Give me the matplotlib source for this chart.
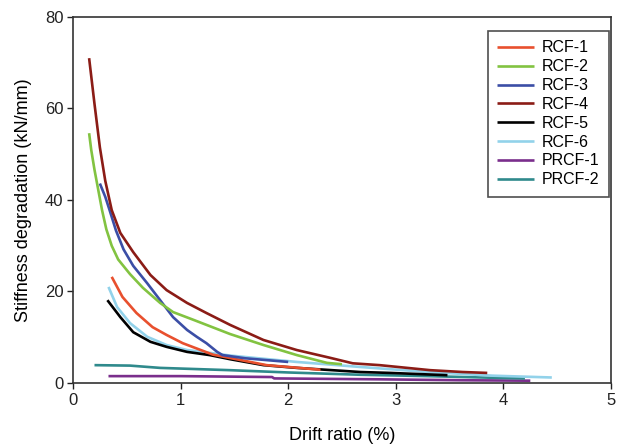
import matplotlib.pyplot as plt

plt.rcParams['font.family'] = ['Liberation Sans', 'DejaVu Sans']

names = ['RCF-1', 'RCF-2', 'RCF-3', 'RCF-4', 'RCF-5', 'RCF-6', 'PRCF-1', 'PRCF-2']
colors = ['#e8502e', '#82c341', '#3b4ea6', '#8b1c16', '#000000', '#92d2ea', '#7a2e8c', '#2f8a8c']

# drift ratio (%) / stiffness (kN/mm)
rcf1_x = [0.36, 0.46, 0.59, 0.74, 0.87, 1.02, 1.3, 1.8, 2.3]
rcf1_y = [23.2, 18.8, 15.3, 12.2, 10.5, 8.7, 6.2, 3.9, 2.9]

rcf2_x = [0.15, 0.17, 0.2, 0.235, 0.27, 0.31, 0.36, 0.42, 0.53, 0.65, 0.81, 0.93, 1.12, 1.46,
          1.77, 2.08, 2.36, 2.5]
rcf2_y = [54.6, 50.9, 46.6, 42.2, 37.8, 33.6, 30.0, 27.0, 23.8, 20.8, 17.5, 15.5, 13.8, 10.7,
          8.3, 6.1, 4.4, 4.1]

rcf3_x = [0.25, 0.3, 0.34, 0.4, 0.47, 0.56, 0.69, 0.81, 0.93, 1.06, 1.15, 1.24, 1.34, 1.39,
          1.6, 2.0]
rcf3_y = [43.6, 40.7, 37.8, 33.3, 29.2, 25.6, 21.8, 18.1, 14.4, 11.6, 10.1, 8.7, 6.8, 6.1,
          5.4, 4.6]

rcf4_x = [0.15, 0.2, 0.25, 0.3, 0.36, 0.44, 0.56, 0.72, 0.87, 1.06, 1.24, 1.46, 1.77, 2.08,
          2.39, 2.6, 2.85, 3.32, 3.62, 3.85]
rcf4_y = [71.0, 61.0, 51.5, 44.2, 37.8, 32.8, 28.6, 23.6, 20.3, 17.5, 15.3, 12.7, 9.4, 7.2,
          5.5, 4.3, 3.9, 2.8, 2.4, 2.2]

rcf5_x = [0.32, 0.44, 0.56, 0.72, 0.87, 1.06, 1.27, 1.46, 1.77, 2.08, 2.67, 2.95, 3.48]
rcf5_y = [18.1, 14.4, 11.1, 9.0, 7.9, 6.8, 6.1, 5.2, 3.9, 3.3, 2.4, 2.2, 1.7]

rcf6_x = [0.33, 0.41, 0.53, 0.69, 0.87, 1.06, 1.3, 1.46, 2.08, 2.67, 3.3, 3.9, 4.45]
rcf6_y = [21.0, 16.6, 13.1, 10.1, 8.3, 7.2, 6.5, 6.0, 4.6, 3.5, 2.4, 1.6, 1.2]

prcf1_x = [0.33, 1.0, 1.85, 1.87, 2.85, 3.6, 4.25]
prcf1_y = [1.5, 1.5, 1.3, 1.0, 0.8, 0.6, 0.5]

prcf2_x = [0.2, 0.53, 0.81, 1.46, 2.0, 2.67, 3.3, 3.97, 4.2]
prcf2_y = [3.9, 3.8, 3.3, 2.8, 2.3, 1.8, 1.5, 1.1, 1.0]

series = [(rcf1_x, rcf1_y), (rcf2_x, rcf2_y), (rcf3_x, rcf3_y), (rcf4_x, rcf4_y),
          (rcf5_x, rcf5_y), (rcf6_x, rcf6_y), (prcf1_x, prcf1_y), (prcf2_x, prcf2_y)]

fig = plt.figure(figsize=(6.2, 4.47), dpi=100)
ax = fig.add_axes([0.1177, 0.1432, 0.8678, 0.8188])

# draw back to front so the low lines sit under the upper ones like the original
order = [6, 7, 5, 4, 0, 2, 1, 3]
for i in order:
    x, y = series[i]
    ax.plot(x, y, color=colors[i], lw=1.9, label=names[i], solid_capstyle='butt')

ax.set_xlim(0, 5)
ax.set_ylim(0, 80)
ax.set_xticks([0, 1, 2, 3, 4, 5])
ax.set_yticks([0, 20, 40, 60, 80])
ax.tick_params(direction='out', length=4, width=1, labelsize=12, colors='#222222', pad=3)
for s in ax.spines.values():
    s.set_color('#333333')
    s.set_linewidth(1.2)

ax.set_xlabel('Drift ratio (%)', fontsize=13, labelpad=14)
ax.set_ylabel('Stiffness degradation (kN/mm)', fontsize=13, labelpad=9)

handles, labels = ax.get_legend_handles_labels()
lut = dict(zip(labels, handles))
leg = ax.legend([lut[n] for n in names], names, loc='upper right',
                bbox_to_anchor=(0.9965, 0.962), fontsize=11.5, frameon=True,
                fancybox=False, edgecolor='#222222', handlelength=2.3,
                labelspacing=0.24, borderpad=0.6, handletextpad=0.5,
                borderaxespad=0.0)
leg.get_frame().set_linewidth(1.2)

fig.savefig('out.png', dpi=100)
